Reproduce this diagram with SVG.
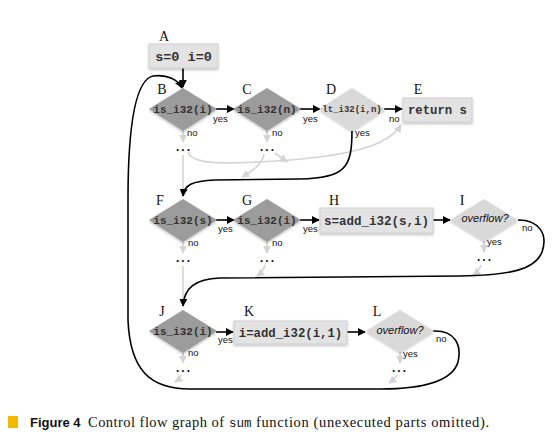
<svg xmlns="http://www.w3.org/2000/svg" width="554" height="440" viewBox="0 0 554 440">
<defs>
<style>
.lbl{font-family:"Liberation Serif",serif;font-size:14px;fill:#111;text-anchor:middle}
.code{font-family:"Liberation Mono",monospace;font-size:11px;font-weight:bold;fill:#333;text-anchor:middle}
.box{fill:#e3e3e3;stroke:#cfcfcf;stroke-width:1}
.dk{fill:#9c9c9c}
.lt{fill:#d9d9d9}
.yn{font-family:"Liberation Sans",sans-serif;font-size:9.5px;fill:#111}
.dots{font-family:"Liberation Sans",sans-serif;font-size:12px;font-weight:bold;fill:#111;text-anchor:middle;letter-spacing:2px}
.ovf{font-family:"Liberation Sans",sans-serif;font-style:italic;font-size:11px;fill:#111;text-anchor:middle}
.bk{fill:none;stroke:#000;stroke-width:1.6;marker-end:url(#ab)}
.gr{fill:none;stroke:#d4d4d4;stroke-width:1.6;marker-end:url(#ag)}
</style>
<marker id="ab" viewBox="0 0 10 10" refX="9" refY="5" markerWidth="5" markerHeight="5" orient="auto" markerUnits="strokeWidth"><path d="M0,0 L10,5 L0,10 z" fill="#000"/></marker>
<marker id="ag" viewBox="0 0 10 10" refX="9" refY="5" markerWidth="5" markerHeight="5" orient="auto" markerUnits="strokeWidth"><path d="M0,0 L10,5 L0,10 z" fill="#d4d4d4"/></marker>
<filter id="sh" x="-20%" y="-20%" width="140%" height="150%"><feDropShadow dx="0" dy="1.5" stdDeviation="1.2" flood-color="#000" flood-opacity="0.25"/></filter>
</defs>

<g id="connectors">
<path class="gr" d="M183,131 L183,142"/>
<path class="gr" d="M183,155 L183,196"/>
<path class="gr" d="M188,152 C192,166 230,164 290,160 C350,155 388,146 401,125"/>
<path class="gr" d="M267,131 L267,142"/>
<path class="gr" d="M275,153 L287,162"/>
<path class="gr" d="M264,154 C262,165 252,171 242,177"/>
<path class="gr" d="M183,242 L183,253"/>
<path class="gr" d="M183,266 L183,306"/>
<path class="gr" d="M267,242 L267,253"/>
<path class="gr" d="M265,265 C264,270 261,273 257,276"/>
<path class="gr" d="M484,241 L484,252"/>
<path class="gr" d="M481,265 C480,269 477,272 473,275"/>
<path class="gr" d="M183,353 L183,363"/>
<path class="gr" d="M181,375 C180,378 178,380 175,382"/>
<path class="gr" d="M400,352 L400,363"/>
<path class="gr" d="M397,375 C396,378 393,380 389,383"/>
<path class="bk" d="M183,68 L183,87"/>
<path class="bk" d="M216,109 L234,109"/>
<path class="bk" d="M300,109 L320,109"/>
<path class="bk" d="M384,109 L402,109"/>
<path class="bk" d="M352,131 C352,168 345,178 300,179 L215,180 C192,181 184,185 183,196"/>
<path class="bk" d="M216,220 L234,220"/>
<path class="bk" d="M300,220 L319,220"/>
<path class="bk" d="M433,220 L450,220"/>
<path class="bk" d="M518,220 C540,220 548,235 542,252 C535,270 510,275 460,276 L220,278 C195,279 184,288 183,306"/>
<path class="bk" d="M216,332 L233,332"/>
<path class="bk" d="M347,332 L365,332"/>
<path class="bk" d="M433,331 C455,330 462,345 458,362 C452,382 420,389 380,389 L190,389 C150,389 130,370 128,320 L128,200 C128,130 135,80 153,76 C168,74 178,80 182,88"/>
</g>

<g id="A"><text class="lbl" x="164" y="41">A</text><rect class="box" x="149" y="44" width="69" height="24" filter="url(#sh)"/><text class="code" x="183.5" y="61" style="font-size:13.5px">s=0 i=0</text></g>

<g id="B"><text class="lbl" x="162" y="94">B</text><polygon class="dk" points="183,88 217,109 183,131 149,109" filter="url(#sh)"/><text class="code" x="183" y="113">is_i32(i)</text><text class="yn" x="213" y="122">yes</text><text class="yn" x="187" y="136">no</text><text class="dots" x="184" y="151">...</text></g>

<g id="C"><text class="lbl" x="247" y="94">C</text><polygon class="dk" points="267,88 301,109 267,131 233,109" filter="url(#sh)"/><text class="code" x="267" y="113">is_i32(n)</text><text class="yn" x="303" y="122">yes</text><text class="yn" x="272" y="136">no</text><text class="dots" x="268" y="151">...</text></g>

<g id="D"><text class="lbl" x="331" y="94">D</text><polygon class="lt" points="352,88 385,109 352,131 319,109" filter="url(#sh)"/><text class="code" x="352" y="112" style="font-size:9px">lt_i32(i,n)</text><text class="yn" x="389" y="122">no</text><text class="yn" x="355" y="136">yes</text></g>

<g id="E"><text class="lbl" x="418" y="94">E</text><rect class="box" x="403" y="98" width="69" height="24" filter="url(#sh)"/><text class="code" x="437.5" y="114" style="font-size:12.3px">return s</text></g>

<g id="F"><text class="lbl" x="160" y="205">F</text><polygon class="dk" points="183,199 217,220 183,242 149,220" filter="url(#sh)"/><text class="code" x="183" y="224">is_i32(s)</text><text class="yn" x="218" y="232">yes</text><text class="yn" x="188" y="246">no</text><text class="dots" x="184" y="262">...</text></g>

<g id="G"><text class="lbl" x="247" y="205">G</text><polygon class="dk" points="267,199 301,220 267,242 233,220" filter="url(#sh)"/><text class="code" x="267" y="224">is_i32(i)</text><text class="yn" x="303" y="232">yes</text><text class="yn" x="272" y="246">no</text><text class="dots" x="268" y="262">...</text></g>

<g id="H"><text class="lbl" x="334" y="205">H</text><rect class="box" x="320" y="208" width="113" height="25" filter="url(#sh)"/><text class="code" x="376.5" y="225" style="font-size:12.5px">s=add_i32(s,i)</text></g>

<g id="I"><text class="lbl" x="462" y="205">I</text><polygon class="lt" points="484,199 518,220 484,241 450,220" filter="url(#sh)"/><text class="ovf" x="485" y="222">overflow?</text><text class="yn" x="522" y="231">no</text><text class="yn" x="487" y="245">yes</text><text class="dots" x="485" y="261">...</text></g>

<g id="J"><text class="lbl" x="162" y="316">J</text><polygon class="dk" points="183,310 217,331 183,353 149,331" filter="url(#sh)"/><text class="code" x="183" y="335">is_i32(i)</text><text class="yn" x="218" y="343">yes</text><text class="yn" x="188" y="356">no</text><text class="dots" x="184" y="372">...</text></g>

<g id="K"><text class="lbl" x="249" y="316">K</text><rect class="box" x="234" y="321" width="113" height="23" filter="url(#sh)"/><text class="code" x="290.5" y="337" style="font-size:12.3px">i=add_i32(i,1)</text></g>

<g id="L"><text class="lbl" x="377" y="316">L</text><polygon class="lt" points="400,310 434,331 400,352 366,331" filter="url(#sh)"/><text class="ovf" x="400" y="334">overflow?</text><text class="yn" x="436" y="342">no</text><text class="yn" x="403" y="357">yes</text><text class="dots" x="400" y="372">...</text></g>

<g id="caption">
<rect x="8" y="416" width="10" height="12" fill="#f5b800"/>
<text x="30" y="427" style="font-family:'Liberation Sans',sans-serif;font-size:13px;font-weight:bold;fill:#111">Figure 4</text>
<text x="88" y="427" textLength="136" style="font-family:'Liberation Serif',serif;font-size:14.5px;fill:#111">Control flow graph of</text>
<text x="229" y="427" style="font-family:'Liberation Mono',monospace;font-size:12.5px;fill:#111">sum</text>
<text x="256" y="427" textLength="233" style="font-family:'Liberation Serif',serif;font-size:14.5px;fill:#111">function (unexecuted parts omitted).</text>
</g>
</svg>
